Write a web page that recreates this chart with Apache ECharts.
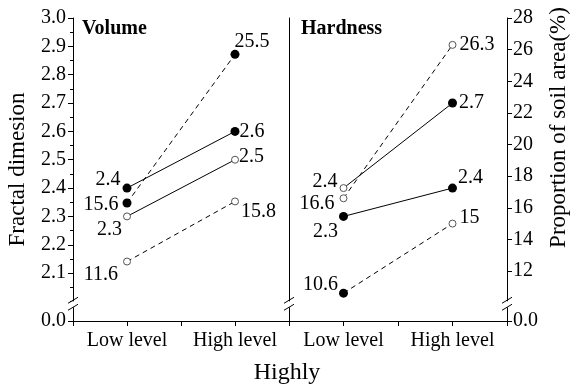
<!DOCTYPE html>
<html>
<head>
<meta charset="utf-8">
<script src="https://cdn.jsdelivr.net/npm/echarts@6/dist/echarts.min.js"></script>
<style>
  html, body { margin: 0; padding: 0; background: #fff; }
  #chart { width: 574px; height: 387px; }
</style>
</head>
<body>
<div id="chart"></div>
<script>
// x positions: 0 = Low level, 1 = High level
const levels = ['Low level', 'High level'];

// Volume panel
const volFdUpper = [2.4, 2.6];
const volFdLower = [2.3, 2.5];
const volPctUpper = [16.3, 25.7];      // where the dots sit on the % axis
const volPctUpperText = ['15.6', '25.5'];
const volPctLower = [12.6, 16.4];
const volPctLowerText = ['11.6', '15.8'];

// Hardness panel
const hardFdUpper = [2.4, 2.7];
const hardFdLower = [2.3, 2.4];
const hardPctUpper = [16.6, 26.3];
const hardPctLower = [10.6, 15];

// axes
const fdTicks = [2.1, 2.2, 2.3, 2.4, 2.5, 2.6, 2.7, 2.8, 2.9, 3.0];
const fdMinor = [2.0, 2.05, 2.15, 2.25, 2.35, 2.45, 2.55, 2.65, 2.75, 2.85, 2.95];
const pctTicks = [12, 14, 16, 18, 20, 22, 24, 26, 28];
const FD_MIN = 1.931;   // bottom of the broken axis, shown as 0.0
const PCT_MIN = 8.84;
const FD_BREAK = 1.99;

const FONT = "'Liberation Serif', 'Times New Roman', serif";
const filled = { color: '#000', borderColor: '#000', borderWidth: 0 };
const hollow = { color: '#fff', borderColor: '#555', borderWidth: 1 };

// build points: marks 'f' filled / 'o' hollow, labels [position, dx, dy]
function pts(values, texts, marks, labels) {
  return values.map((v, i) => ({
    value: [i, v],
    symbolSize: marks[i] === 'f' ? 9 : 7,
    itemStyle: marks[i] === 'f' ? filled : hollow,
    label: {
      show: true,
      formatter: texts ? texts[i] : String(v),
      position: labels[i][0],
      offset: [labels[i][1], labels[i][2]]
    }
  }));
}

function line(name, x, y, data, dashed) {
  return {
    name: name,
    type: 'line',
    xAxisIndex: x,
    yAxisIndex: y,
    data: data,
    symbol: 'circle',
    lineStyle: { color: '#000', width: 1, type: dashed ? [5, 4] : 'solid' },
    label: { color: '#000', fontSize: 20, fontFamily: FONT, distance: 5 },
    emphasis: { disabled: true },
    z: dashed ? 2 : 3
  };
}

const xAxisBase = {
  type: 'value',
  min: -0.5,
  max: 1.5,
  interval: 0.5,
  splitLine: { show: false },
  axisLine: { onZero: false, lineStyle: { color: '#000', width: 1 } },
  axisTick: { inside: false, length: 5, lineStyle: { color: '#000' } },
  axisLabel: {
    color: '#000', fontSize: 20, fontFamily: FONT, margin: 10,
    formatter: v => (v === 0 ? levels[0] : v === 1 ? levels[1] : '')
  }
};

const option = {
  animation: false,
  backgroundColor: '#fff',
  title: [
    { text: 'Volume', left: 77, top: 14, textStyle: { fontSize: 20, fontWeight: 'bold', fontFamily: FONT, color: '#000' } },
    { text: 'Hardness', left: 296, top: 14, textStyle: { fontSize: 20, fontWeight: 'bold', fontFamily: FONT, color: '#000' } },
    { text: 'Highly', left: 'center', top: 356, textStyle: { fontSize: 24, fontWeight: 'normal', fontFamily: FONT, color: '#000' } }
  ],
  grid: [
    { left: 73, right: 285, top: 18, bottom: 66 },
    { left: 289, right: 67, top: 18, bottom: 66 }
  ],
  xAxis: [
    Object.assign({ gridIndex: 0 }, xAxisBase),
    Object.assign({ gridIndex: 1 }, xAxisBase)
  ],
  yAxis: [
    {
      gridIndex: 0, type: 'value', position: 'left', min: FD_MIN, max: 3.0,
      name: 'Fractal dimesion', nameLocation: 'middle', nameGap: 44,
      nameTextStyle: { fontSize: 23, fontFamily: FONT, color: '#000' },
      splitLine: { show: false },
      axisLine: { show: true, onZero: false, lineStyle: { color: '#000' } },
      axisTick: { length: 5, customValues: [FD_MIN].concat(fdTicks), lineStyle: { color: '#000' } },
      axisLabel: {
        color: '#000', fontSize: 20, fontFamily: FONT, margin: 7,
        customValues: [FD_MIN].concat(fdTicks),
        formatter: v => (v < 2 ? '0.0' : v.toFixed(1))
      }
    },
    {
      gridIndex: 0, type: 'value', position: 'left', min: FD_MIN, max: 3.0,
      splitLine: { show: false },
      axisLine: { show: false, onZero: false },
      axisTick: { length: 3, customValues: fdMinor, lineStyle: { color: '#000' } },
      axisLabel: { show: false }
    },
    {
      gridIndex: 0, type: 'value', position: 'right', min: PCT_MIN, max: 28,
      splitLine: { show: false },
      axisLine: { show: true, onZero: false, lineStyle: { color: '#000' } },
      axisTick: { show: false },
      axisLabel: { show: false }
    },
    {
      gridIndex: 1, type: 'value', position: 'left', min: FD_MIN, max: 3.0,
      show: false
    },
    {
      gridIndex: 1, type: 'value', position: 'right', min: PCT_MIN, max: 28,
      name: 'Proportion of soil area(%)', nameLocation: 'middle', nameGap: 40,
      nameTextStyle: { fontSize: 23, fontFamily: FONT, color: '#000', padding: [0, 0, 0, 84] },
      splitLine: { show: false },
      axisLine: { show: true, onZero: false, lineStyle: { color: '#000' } },
      axisTick: { length: 5, customValues: [PCT_MIN].concat(pctTicks), lineStyle: { color: '#000' } },
      axisLabel: {
        color: '#000', fontSize: 20, fontFamily: FONT, margin: 6,
        customValues: [PCT_MIN].concat(pctTicks),
        formatter: v => (v < 10 ? '0.0' : String(v))
      }
    }
  ],
  series: [
    // Volume
    line('vol pct upper', 0, 2, pts(volPctUpper, volPctUpperText, ['f', 'f'],
      [['left', 1, 2], ['right', -10, -13]]), true),
    line('vol fd upper', 0, 0, pts(volFdUpper, null, ['f', 'f'],
      [['left', 3, -8], ['right', -5, 0]]), false),
    line('vol fd lower', 0, 0, pts(volFdLower, null, ['o', 'o'],
      [['left', 4, 13], ['right', -5, -3]]), false),
    line('vol pct lower', 0, 2, pts(volPctLower, volPctLowerText, ['o', 'o'],
      [['left', 0, 13], ['right', -3, 10]]), true),
    // Hardness
    line('hard pct upper', 1, 4, pts(hardPctUpper, null, ['o', 'o'],
      [['left', 0, 5], ['right', -2, 0]]), true),
    line('hard fd upper', 1, 3, pts(hardFdUpper, null, ['o', 'f'],
      [['left', 3, -6], ['right', -3, 0]]), false),
    line('hard fd lower', 1, 3, pts(hardFdLower, null, ['f', 'f'],
      [['left', 4, 15], ['right', -4, -10]]), false),
    line('hard pct lower', 1, 4, pts(hardPctLower, null, ['f', 'o'],
      [['left', 4, -8], ['right', -2, -6]]), true)
  ]
};

const myChart = echarts.init(document.getElementById('chart'));
myChart.setOption(option);

// "//" break marks on the three vertical axis lines
function breakMark(x, y) {
  const st = { stroke: '#000', lineWidth: 1 };
  return [
    { type: 'rect', shape: { x: x - 2, y: y - 3, width: 4, height: 6 }, style: { fill: '#fff' }, z: 10 },
    { type: 'line', shape: { x1: x - 5, y1: y - 1, x2: x + 5, y2: y - 7 }, style: st, z: 11 },
    { type: 'line', shape: { x1: x - 5, y1: y + 6, x2: x + 5, y2: y }, style: st, z: 11 }
  ];
}
const by = myChart.convertToPixel({ yAxisIndex: 0 }, FD_BREAK);
const xl = myChart.convertToPixel({ xAxisIndex: 0 }, -0.5);
const xm = myChart.convertToPixel({ xAxisIndex: 0 }, 1.5);
const xr = myChart.convertToPixel({ xAxisIndex: 1 }, 1.5);
myChart.setOption({
  graphic: [].concat(breakMark(xl, by), breakMark(xm, by), breakMark(xr, by))
});
</script>
</body>
</html>
